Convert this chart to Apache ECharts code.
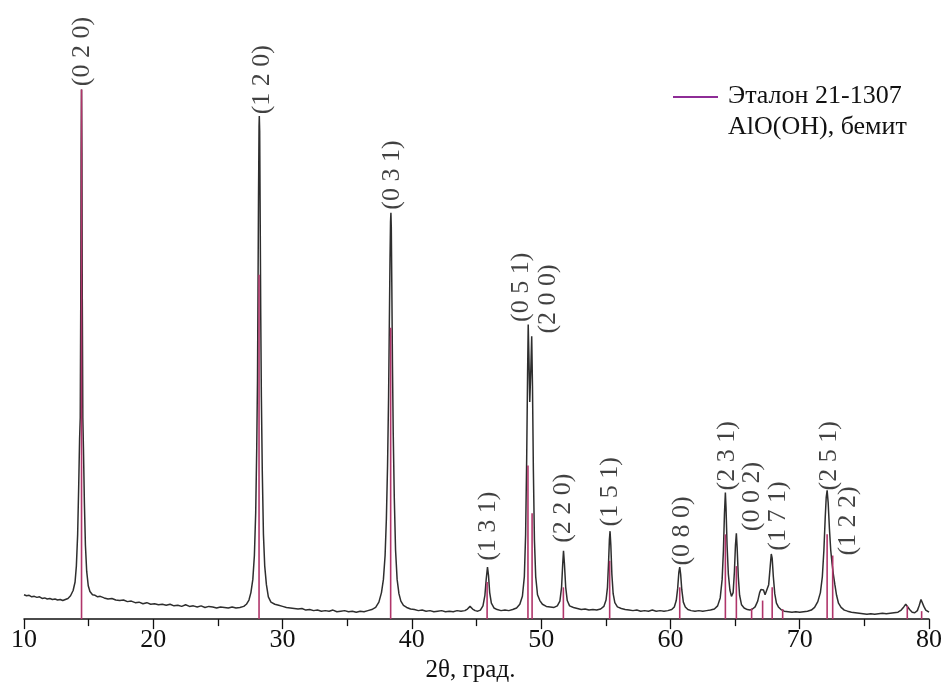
<!DOCTYPE html>
<html>
<head>
<meta charset="utf-8">
<script src="https://cdn.jsdelivr.net/npm/echarts@6/dist/echarts.min.js"></script>
<style>
  html, body { margin: 0; padding: 0; background: #fff; }
  #chart { width: 945px; height: 688px; }
</style>
</head>
<body>
<div id="chart"></div>
<script>
// Measured diffractogram: [2θ, intensity (rel. units)]
const trace = [
  [10.0,4.6],[10.2,4.4],[10.4,4.5],[10.6,4.2],[10.8,4.3],[11.0,4.1],[11.2,4.2],[11.4,3.9],[11.6,4.0],[11.8,3.8],
  [12.0,3.9],[12.2,3.7],[12.4,3.8],[12.6,3.6],[12.8,3.7],[13.0,3.5],[13.2,3.7],[13.4,3.9],[13.6,4.4],[13.8,5.4],
  [13.95,7],[14.05,10],[14.15,16],[14.23,25],[14.3,34],[14.35,38],[14.39,60],[14.42,88],[14.45,100],[14.48,88],
  [14.51,60],[14.55,38],[14.6,32],[14.67,22],[14.75,14],[14.85,9],[14.97,6.3],[15.1,5.2],[15.3,4.6],[15.5,4.5],
  [15.7,4.2],[15.9,4.3],[16.2,4.0],[16.5,3.8],[16.8,3.9],[17.1,3.6],[17.4,3.5],[17.7,3.6],[18.0,3.3],[18.3,3.4],
  [18.6,3.1],[18.9,3.2],[19.2,2.9],[19.5,3.1],[19.8,2.8],[20.1,2.9],[20.4,2.7],[20.7,2.8],[21.0,2.6],[21.3,2.8],
  [21.6,2.5],[21.9,2.6],[22.2,2.4],[22.5,2.7],[22.8,2.4],[23.1,2.5],[23.4,2.3],[23.7,2.5],[24.0,2.2],[24.3,2.4],
  [24.6,2.3],[24.9,2.1],[25.2,2.3],[25.5,2.2],[25.8,2.1],[26.1,2.3],[26.4,2.1],[26.7,2.2],[27.0,2.4],[27.2,2.8],
  [27.4,3.6],[27.55,5],[27.7,7.5],[27.82,12],[27.92,20],[28.0,32],[28.06,45],[28.1,62],[28.14,80],[28.18,93],
  [28.2,95],[28.23,92],[28.27,75],[28.31,58],[28.36,42],[28.43,28],[28.52,16],[28.62,10],[28.75,6.5],[28.9,4.2],
  [29.1,3.2],[29.4,2.8],[29.7,2.6],[30.0,2.4],[30.3,2.2],[30.6,2.1],[30.9,2.0],[31.2,1.9],[31.5,2.0],[31.8,1.7],
  [32.1,1.8],[32.4,1.6],[32.7,1.7],[33.0,1.5],[33.3,1.6],[33.6,1.5],[33.9,1.7],[34.2,1.4],[34.5,1.5],[34.8,1.6],
  [35.1,1.4],[35.4,1.5],[35.7,1.3],[36.0,1.5],[36.3,1.4],[36.6,1.6],[36.9,1.8],[37.2,2.2],[37.45,3.2],[37.65,5],
  [37.8,7.5],[37.93,12],[38.03,19],[38.12,29],[38.2,42],[38.26,56],[38.31,68],[38.35,75],[38.38,76.7],[38.41,74],
  [38.45,63],[38.5,48],[38.56,35],[38.64,23],[38.74,13],[38.86,7.5],[39.0,4.8],[39.15,3.4],[39.35,2.6],[39.6,2.2],
  [39.9,1.9],[40.2,1.8],[40.5,1.6],[40.8,1.7],[41.1,1.5],[41.4,1.6],[41.7,1.4],[42.0,1.5],[42.3,1.6],[42.6,1.4],
  [42.9,1.5],[43.2,1.4],[43.5,1.6],[43.8,1.5],[44.1,1.6],[44.3,1.9],[44.5,2.4],[44.7,1.9],[44.9,1.6],[45.1,1.5],
  [45.3,1.7],[45.5,2.5],[45.65,4.5],[45.75,7.5],[45.85,9.8],[45.93,8.2],[46.02,5],[46.15,3],[46.35,2.1],[46.6,1.8],
  [46.9,1.6],[47.2,1.7],[47.5,1.6],[47.8,1.8],[48.1,2.1],[48.35,2.8],[48.55,4.3],[48.7,8],[48.8,16],[48.88,30],
  [48.95,46],[49.0,55.6],[49.05,50],[49.12,41],[49.2,47],[49.27,53.4],[49.33,44],[49.4,28],[49.48,15],[49.58,8],
  [49.72,4.6],[49.9,3.5],[50.1,2.8],[50.4,2.4],[50.7,2.3],[51.0,2.2],[51.25,2.5],[51.45,3.4],[51.58,6],[51.67,10.5],
  [51.73,12.9],[51.8,10.5],[51.9,6],[52.02,3.5],[52.2,2.5],[52.5,2.2],[52.8,2.0],[53.1,1.8],[53.4,1.9],[53.7,1.7],
  [54.0,1.8],[54.3,1.7],[54.6,1.9],[54.85,2.4],[55.02,3.6],[55.13,6],[55.22,11],[55.28,15],[55.33,16.6],[55.39,14],
  [55.47,8.5],[55.57,4.8],[55.7,3.1],[55.9,2.3],[56.2,2.0],[56.5,1.8],[56.8,1.7],[57.1,1.6],[57.4,1.7],[57.7,1.5],
  [58.0,1.6],[58.3,1.5],[58.6,1.7],[58.9,1.5],[59.2,1.6],[59.5,1.5],[59.8,1.6],[60.1,1.8],[60.3,2.3],[60.45,3.5],
  [60.56,5.8],[60.65,8.8],[60.72,9.8],[60.79,8.5],[60.88,5.5],[61.0,3.2],[61.15,2.3],[61.35,1.8],[61.6,1.6],[61.9,1.5],
  [62.2,1.6],[62.5,1.5],[62.8,1.6],[63.1,1.7],[63.4,1.9],[63.65,2.5],[63.85,4],[64.0,7.5],[64.1,13],[64.18,20],
  [64.25,23.9],[64.3,21],[64.38,14],[64.48,8.5],[64.6,5.5],[64.72,4.3],[64.85,5],[64.95,9],[65.03,14],[65.1,16.2],
  [65.16,13.5],[65.25,8],[65.35,4.5],[65.5,2.7],[65.7,2.1],[65.95,1.8],[66.15,1.7],[66.35,1.9],[66.55,2.3],[66.75,3.4],
  [66.9,5.0],[67.0,5.6],[67.1,5.9],[67.2,5.5],[67.32,4.6],[67.45,4.7],[67.6,6.5],[67.72,10],[67.8,12.3],[67.87,11.5],
  [67.96,8],[68.07,4.8],[68.2,3],[68.35,2.3],[68.55,1.8],[68.8,1.5],[69.1,1.4],[69.4,1.3],[69.7,1.4],[70.0,1.3],
  [70.3,1.4],[70.6,1.5],[70.9,1.7],[71.15,2.2],[71.4,3.3],[71.6,5],[71.75,8],[71.87,13],[71.97,19],[72.05,23],
  [72.12,24.3],[72.2,22],[72.3,17],[72.4,13],[72.5,10.5],[72.6,8.5],[72.72,6.5],[72.85,4.5],[73.0,3.0],[73.2,2.2],
  [73.45,1.7],[73.7,1.5],[74.0,1.3],[74.3,1.2],[74.6,1.1],[74.9,1.0],[75.2,0.9],[75.5,1.0],[75.8,0.9],[76.1,1.0],
  [76.4,1.1],[76.7,1.0],[77.0,1.1],[77.3,1.2],[77.6,1.3],[77.85,1.7],[78.05,2.3],[78.2,2.8],[78.35,2.5],[78.5,1.8],
  [78.7,1.3],[78.9,1.2],[79.1,1.6],[79.25,2.6],[79.38,3.7],[79.48,3.4],[79.6,2.4],[79.75,1.7],[79.9,1.4],[80.0,1.3]
];

// Reference card 21-1307 (boehmite): line positions and intensities
const refTheta = [14.45, 28.18, 38.36, 45.82, 48.98, 49.30, 51.72, 55.30, 60.72, 64.25, 65.10, 66.28, 67.13, 67.87, 68.68, 72.12, 72.55, 78.32, 79.43];
const refInt   = [100,   65,    55,    7,     29,    20,    6,     11,    6,     16,    10,    2,     3.5,   6,     1.9,   16,    12,    2.5,   1.5];

// Miller indices of the indexed reflections and where their captions sit
const hklText  = ['(0 2 0)', '(1 2 0)', '(0 3 1)', '(1 3 1)', '(0 5 1)', '(2 0 0)', '(2 2 0)', '(1 5 1)', '(0 8 0)', '(2 3 1)', '(0 0 2)', '(1 7 1)', '(2 5 1)', '(1 2 2)'];
const hklTheta = [14.48, 28.4, 38.46, 45.9, 48.44, 50.53, 51.69, 55.32, 60.89, 64.37, 66.3, 68.31, 72.26, 73.73];
const hklLevel = [100.6, 95.3, 77.3, 11.0, 56.1, 53.9, 14.4, 17.5, 10.1, 24.3, 16.6, 12.9, 24.3, 12.0];

// Axis ticks
const xTicks = [10, 20, 30, 40, 50, 60, 70, 80];
const xName = '2θ, град.';
const legendLines = ['Эталон 21-1307', 'AlO(OH), бемит'];

const FONT = '"Liberation Serif", "Times New Roman", serif';

const chart = echarts.init(document.getElementById('chart'), null, { renderer: 'canvas' });

chart.setOption({
  backgroundColor: '#ffffff',
  animation: false,
  grid: { left: 24, right: 16, top: 10, bottom: 53, containLabel: false },
  xAxis: {
    type: 'value',
    min: xTicks[0],
    max: xTicks[xTicks.length - 1],
    interval: xTicks[1] - xTicks[0],
    name: xName,
    nameLocation: 'middle',
    nameGap: 30,
    nameTextStyle: { fontFamily: FONT, fontSize: 25, color: '#111', padding: [0, 12, 0, 0] },
    axisLine: { onZero: false, lineStyle: { color: '#111', width: 1.5 } },
    axisTick: { show: true, inside: false, length: 10, lineStyle: { color: '#111', width: 1.3 } },
    minorTick: { show: true, splitNumber: 2, length: 7, lineStyle: { color: '#111', width: 1.3 } },
    axisLabel: { fontFamily: FONT, fontSize: 26, color: '#111', margin: 8 },
    splitLine: { show: false }
  },
  yAxis: {
    type: 'value',
    min: 0,
    max: 115,
    show: false
  },
  series: [
    {
      name: 'trace',
      type: 'line',
      data: trace,
      showSymbol: false,
      symbol: 'none',
      z: 2,
      lineStyle: { color: '#2e2e2e', width: 1.5 }
    },
    {
      name: legendLines.join('\n'),
      type: 'bar',
      data: refTheta.map((t, i) => [t, refInt[i]]),
      barWidth: 1.6,
      z: 3,
      itemStyle: { color: '#b0356a' }
    },
    {
      name: 'hkl',
      type: 'scatter',
      data: hklTheta.map((t, i) => ({ value: [t, hklLevel[i]], label: { formatter: hklText[i] } })),
      symbolSize: 0,
      z: 4,
      label: {
        show: true,
        position: 'inside',
        rotate: 90,
        align: 'left',
        verticalAlign: 'middle',
        fontFamily: FONT,
        fontSize: 26,
        color: '#111'
      }
    }
  ],
  graphic: [
    {
      type: 'line',
      shape: { x1: 673, y1: 97, x2: 718, y2: 97 },
      style: { stroke: '#8e2c96', lineWidth: 2 }
    },
    {
      type: 'text',
      left: 728,
      top: 81,
      style: {
        text: legendLines.join('\n'),
        fontFamily: FONT,
        fontSize: 26,
        lineHeight: 31,
        fill: '#111'
      }
    }
  ]
});
</script>
</body>
</html>
